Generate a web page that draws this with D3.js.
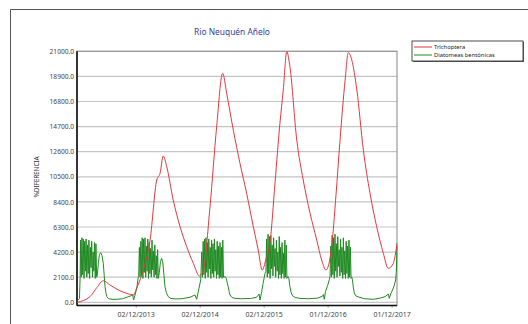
<!DOCTYPE html>
<html>
<head>
<meta charset="utf-8">
<script src="https://cdn.jsdelivr.net/npm/d3@7"></script>
<style>
  body { margin: 0; background: #fff; }
  text { font-family: "Noto Sans", sans-serif; }
</style>
</head>
<body>
<svg id="chart" width="528" height="324"></svg>
<script>
const title = "Rio Neuquén Añelo";
const seriesNames = ["Trichoptera", "Diatomeas bentónicas"];
const yTicks = [0, 2100, 4200, 6300, 8400, 10500, 12600, 14700, 16800, 18900, 21000];
const xTickLabels = ["02/12/2013", "02/12/2014", "02/12/2015", "01/12/2016", "01/12/2017"];

// [days since 01/01/2013, %diferencia]
const trichoptera = [
  [0,0],[74,470],[114,1250],[150,1800],[188,1450],[245,970],[290,720],[321,610],
  [341,1200],[369,2280],[417,5200],[455,10230],[474,10800],[492,12240],[512,11350],
  [549,8560],[588,6330],[626,4650],[664,3260],[699,2200],[721,2700],[759,8000],
  [797,14700],[831,19160],[854,17490],[892,14400],[930,11630],[968,9120],[1006,6330],
  [1034,4380],[1057,2700],[1078,3600],[1101,4940],[1130,10000],[1158,14980],[1177,17760],
  [1197,20970],[1215,19710],[1254,13580],[1291,10230],[1330,7450],[1368,5210],[1396,3540],
  [1421,2700],[1453,4650],[1478,9000],[1501,13580],[1530,18600],[1548,20890],[1568,20270],
  [1597,17760],[1634,12740],[1672,9120],[1710,6330],[1748,4100],[1776,2840],[1805,3260],
  [1826,4940]
];

const diatomeas = [
  [0,100],[14,300],[18,2100],
  [20,5200],[24,2100],[28,5400],[32,2300],[36,5300],[40,2000],[44,5100],[48,2600],
  [52,5300],[56,2100],[60,4800],[64,2400],[68,5200],[72,2000],[76,4600],[80,2900],
  [84,5100],[88,2100],[92,4200],[96,2600],[100,5000],[104,2000],[108,4900],[112,2100],
  [116,2300],[122,3300],[128,4000],[135,4150],[143,3900],[150,3260],[155,2300],[160,1300],
  [165,800],[170,470],[180,300],[200,250],[230,250],[260,300],[290,450],[310,560],
  [318,620],[323,200],[331,610],[341,1170],[350,2140],
  [352,2200],[356,4600],[360,2100],[364,5100],[368,2300],[372,5400],[376,2000],[380,5300],
  [384,2500],[388,5400],[392,2100],[396,4700],[400,2600],[404,5300],[408,2000],[412,5000],
  [416,2400],[420,4500],[424,2100],[428,5200],[432,2700],[436,4300],[440,2100],[444,4800],
  [448,2300],[452,3900],[456,2000],[460,4400],[464,2000],
  [470,2500],[476,3400],[483,3680],[490,3300],[496,2300],[502,1300],[510,800],[521,470],
  [535,330],[560,280],[600,300],[645,420],[673,610],[683,250],[692,890],[706,1870],
  [712,4200],[716,2100],[720,5100],[724,2300],[728,5300],[732,2000],[736,5400],[740,2500],
  [744,5000],[748,2100],[752,5300],[756,2800],[760,4600],[764,2000],[768,5200],[772,2400],
  [776,4900],[780,2100],[784,5300],[788,2600],[792,4400],[796,2000],[800,5100],[804,2300],
  [808,4700],[812,2000],[816,5000],[820,2100],[824,4600],[828,2000],[832,5200],[836,2100],
  [845,2150],[852,2000],[858,1600],[863,1300],[868,900],[873,610],[885,400],[902,330],
  [940,300],[990,320],[1025,420],[1039,690],[1044,190],[1054,890],[1062,1590],[1073,2430],
  [1078,2600],[1082,5300],[1086,2100],[1090,5700],[1094,2400],[1098,5500],[1102,2000],
  [1106,5600],[1110,2800],[1114,4800],[1118,2200],[1122,5400],[1126,3000],[1130,4500],
  [1134,2100],[1138,5200],[1142,2600],[1146,4200],[1150,2000],[1154,5500],[1158,2300],
  [1162,4600],[1166,2000],[1170,5000],[1174,2400],[1178,4100],[1182,2000],[1186,5200],
  [1190,2100],[1194,4800],[1198,2000],
  [1204,2150],[1209,2000],[1215,1300],[1222,800],[1230,550],[1245,400],[1272,330],
  [1320,300],[1370,340],[1400,500],[1406,650],[1411,250],[1418,900],[1430,1400],[1440,1900],
  [1444,2200],[1448,4700],[1452,2100],[1456,5600],[1460,2300],[1464,5400],[1468,2000],
  [1472,5700],[1476,2600],[1480,4900],[1484,2100],[1488,5500],[1492,3000],[1496,4400],
  [1500,2200],[1504,5300],[1508,2500],[1512,4600],[1516,2000],[1520,5400],[1524,2300],
  [1528,4300],[1532,2000],[1536,5100],[1540,2400],[1544,4700],[1548,2000],[1552,5200],
  [1556,2100],[1560,4600],[1564,2000],
  [1568,2100],[1572,1900],[1576,1300],[1582,800],[1590,550],[1605,450],[1640,300],
  [1691,250],[1730,350],[1758,470],[1776,690],[1782,330],[1790,700],[1796,890],
  [1808,1300],[1818,1870],[1822,2500],[1826,4700]
];

const colors = { red: "#e0393f", green: "#1f8a22" };

const svg = d3.select("#chart");
const plot = { left: 77, right: 397, top: 51.3, bottom: 305.5 };
const origin = new Date(2013, 0, 1);
const toDate = d => d3.timeDay.offset(origin, d);
const parseTick = d3.timeParse("%d/%m/%Y");

// outer frame (page border)
svg.append("path")
  .attr("d", "M10.5,324 V9.5 H528")
  .attr("fill", "none")
  .attr("stroke", "#555")
  .attr("stroke-width", 1);

const x = d3.scaleTime()
  .domain([origin, new Date(2018, 0, 1)])
  .range([plot.left, plot.right]);

const y = d3.scaleLinear()
  .domain([0, 21000])
  .range([302.3, plot.top]);

// grid
svg.append("g")
  .selectAll("line")
  .data(yTicks)
  .enter()
  .append("line")
  .attr("x1", plot.left).attr("x2", plot.right)
  .attr("y1", d => y(d)).attr("y2", d => y(d))
  .attr("stroke", "#c4c4c4")
  .attr("stroke-width", 1.2);

// plot frame
svg.append("rect")
  .attr("x", plot.left).attr("y", plot.top)
  .attr("width", plot.right - plot.left)
  .attr("height", plot.bottom - plot.top)
  .attr("fill", "none")
  .attr("stroke", "#9a9a9a")
  .attr("stroke-width", 1.2);

// y axis
const yAxis = svg.append("g")
  .attr("transform", `translate(${plot.left},0)`)
  .call(d3.axisLeft(y).tickValues(yTicks).tickSize(0).tickPadding(3).tickFormat(d3.format(".1f")));
yAxis.select(".domain").remove();
yAxis.selectAll("text")
  .style("font-size", "6.6px")
  .style("fill", "#444");

// x axis
const xAxis = svg.append("g")
  .attr("transform", `translate(0,${plot.bottom})`)
  .call(d3.axisBottom(x)
    .tickValues(xTickLabels.map(parseTick))
    .tickSize(2)
    .tickPadding(5)
    .tickFormat(d3.timeFormat("%d/%m/%Y")));
xAxis.select(".domain").remove();
xAxis.selectAll("line").attr("stroke", "#888");
xAxis.selectAll("text")
  .style("font-size", "7px")
  .style("fill", "#444");

// axis lines
svg.append("line")
  .attr("x1", plot.left).attr("x2", plot.left)
  .attr("y1", plot.top).attr("y2", plot.bottom)
  .attr("stroke", "#111").attr("stroke-width", 1.6);
svg.append("line")
  .attr("x1", plot.left).attr("x2", plot.right)
  .attr("y1", plot.bottom).attr("y2", plot.bottom)
  .attr("stroke", "#111").attr("stroke-width", 1.6);

// lines
const redLine = d3.line()
  .x(d => x(toDate(d[0])))
  .y(d => y(d[1]))
  .curve(d3.curveMonotoneX);

const greenLine = d3.line()
  .x(d => x(toDate(d[0])))
  .y(d => y(d[1]));

svg.append("path")
  .datum(diatomeas)
  .attr("fill", "none")
  .attr("stroke", colors.green)
  .attr("stroke-width", 1)
  .attr("d", greenLine);

svg.append("path")
  .datum(trichoptera)
  .attr("fill", "none")
  .attr("stroke", colors.red)
  .attr("stroke-width", 1)
  .attr("d", redLine);

// title
svg.append("text")
  .attr("x", 232).attr("y", 35)
  .attr("text-anchor", "middle")
  .style("font-size", "8.4px")
  .style("fill", "#3b3b96")
  .text(title);

// y label
svg.append("text")
  .attr("transform", "translate(39,177) rotate(-90)")
  .attr("text-anchor", "middle")
  .style("font-size", "6.6px")
  .style("fill", "#333")
  .style("letter-spacing", "-0.2px")
  .text("%DIFERENCIA");

// legend
const legend = svg.append("g").attr("transform", "translate(412,41)");
legend.append("rect")
  .attr("x", 1).attr("y", 1).attr("width", 111).attr("height", 20)
  .attr("fill", "#666");
legend.append("rect")
  .attr("width", 111).attr("height", 20)
  .attr("fill", "#fff").attr("stroke", "#222").attr("stroke-width", 0.8);

const legendColors = [colors.red, colors.green];
seriesNames.forEach((name, i) => {
  legend.append("line")
    .attr("x1", 2).attr("x2", 20)
    .attr("y1", 6 + i * 8).attr("y2", 6 + i * 8)
    .attr("stroke", legendColors[i]).attr("stroke-width", 1);
  legend.append("text")
    .attr("x", 22).attr("y", 8 + i * 8)
    .style("font-size", "5.8px")
    .style("fill", "#222")
    .text(name);
});
</script>
</body>
</html>
